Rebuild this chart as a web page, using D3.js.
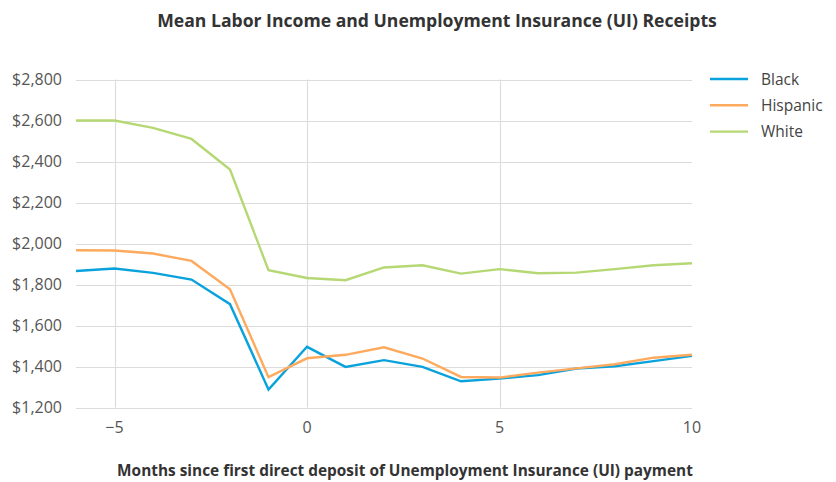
<!DOCTYPE html>
<html>
<head>
<meta charset="utf-8">
<script src="https://cdn.jsdelivr.net/npm/d3@7"></script>
<style>
  body { margin: 0; background: #fff; }
  svg { display: block; font-family: "Open Sans", "Noto Sans", sans-serif; }
</style>
</head>
<body>
<svg id="chart" width="836" height="482"></svg>
<script>
const months = [-6,-5,-4,-3,-2,-1,0,1,2,3,4,5,6,7,8,9,10];
const black    = [1866,1878,1857,1824,1704,1288,1496,1398,1431,1398,1328,1341,1358,1390,1401,1426,1452];
const hispanic = [1967,1966,1951,1915,1777,1348,1440,1457,1494,1439,1349,1346,1370,1391,1411,1443,1457];
const white    = [2600,2600,2564,2510,2361,1870,1832,1821,1883,1894,1853,1875,1855,1858,1875,1894,1904];
const seriesNames = ["Black","Hispanic","White"];
const seriesColors = ["#0aa2dc","#fdaa5e","#b6d874"];
const yTicks = [1200,1400,1600,1800,2000,2200,2400,2600,2800];
const xTicks = [-5,0,5,10];
const title = "Mean Labor Income and Unemployment Insurance (UI) Receipts";
const xTitle = "Months since first direct deposit of Unemployment Insurance (UI) payment";

const svg = d3.select("#chart");
const x = d3.scaleLinear().domain([-6,10]).range([76,692]);
const y = d3.scaleLinear().domain([1200,2800]).range([407.5,79.5]);

// horizontal grid
svg.append("g").selectAll("line").data(yTicks).join("line")
  .attr("x1",76).attr("x2",692)
  .attr("y1",d=>Math.round(y(d))+0.5).attr("y2",d=>Math.round(y(d))+0.5)
  .attr("stroke","#dcdcdc").attr("stroke-width",1.2);
// vertical grid
svg.append("g").selectAll("line").data(xTicks.filter(d=>d<10)).join("line")
  .attr("x1",d=>Math.round(x(d))+0.5).attr("x2",d=>Math.round(x(d))+0.5)
  .attr("y1",79.5).attr("y2",407.5)
  .attr("stroke","#dcdcdc").attr("stroke-width",1.2);

// y labels
const fmt = d3.format("$,");
svg.append("g").selectAll("text").data(yTicks).join("text")
  .attr("x",62).attr("y",d=>y(d)+5.5)
  .attr("text-anchor","end").attr("font-size",16).attr("fill","#555")
  .text(d=>fmt(d));
// x labels
svg.append("g").selectAll("text").data(xTicks).join("text")
  .attr("x",d=>x(d)).attr("y",433)
  .attr("text-anchor","middle").attr("font-size",16).attr("fill","#555")
  .text(d=>d<0 ? "\u2212"+Math.abs(d) : d);

// lines
const all = [black,hispanic,white];
const line = d3.line().x((d,i)=>x(months[i])).y(d=>y(d));
svg.append("g").selectAll("path").data(all).join("path")
  .attr("d",d=>line(d)).attr("fill","none")
  .attr("stroke",(d,i)=>seriesColors[i]).attr("stroke-width",2.4)
  .attr("stroke-linejoin","miter");

// legend
const lg = svg.append("g").selectAll("g").data(seriesNames).join("g")
  .attr("transform",(d,i)=>`translate(0,${79+i*26.3})`);
lg.append("line").attr("x1",710).attr("x2",748).attr("y1",0).attr("y2",0)
  .attr("stroke",(d,i)=>seriesColors[i]).attr("stroke-width",2.4);
lg.append("text").attr("x",761).attr("y",5.5).attr("font-size",15.5).attr("fill","#444").text(d=>d);

// titles
svg.append("text").attr("x",437).attr("y",27).attr("text-anchor","middle")
  .attr("font-size",17.6).attr("font-weight","bold").attr("fill","#333").text(title);
svg.append("text").attr("x",405).attr("y",476).attr("text-anchor","middle")
  .attr("font-size",15.4).attr("font-weight","bold").attr("fill","#333").text(xTitle);
</script>
</body>
</html>
